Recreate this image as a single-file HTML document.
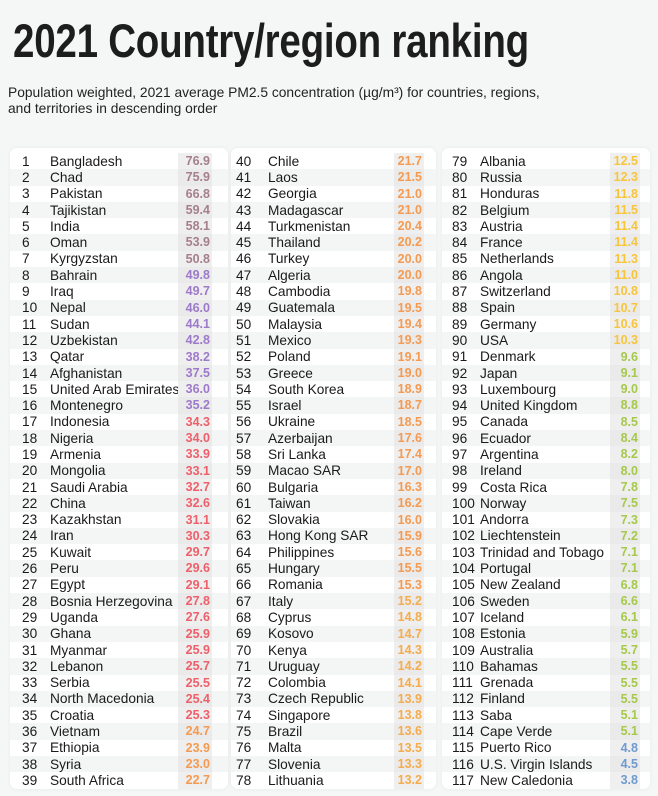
<!DOCTYPE html>
<html><head><meta charset="utf-8"><style>
*{margin:0;padding:0;box-sizing:border-box}
body{width:658px;height:796px;background:#f5f7f7;font-family:"Liberation Sans",sans-serif;position:relative;overflow:hidden;color:#1a1a1a}
h1{position:absolute;left:13px;top:13px;font-family:"Liberation Sans Narrow","Liberation Sans",sans-serif;font-weight:bold;font-size:47px;letter-spacing:-0.3px;color:#1d1d1d;white-space:nowrap;transform:scaleX(0.82);transform-origin:0 0}
.sub{position:absolute;left:8px;top:85px;font-size:13.8px;line-height:16px;color:#222}
.p{position:absolute;top:148px;height:641px;background:#fff;border-radius:7px;box-shadow:0 0 4px rgba(0,0,0,.06);padding-top:5px}
.r{height:16.3px;display:flex;align-items:center;font-size:13.7px;position:relative}
.r:nth-child(even){background:#f4f5f5}
.k{position:absolute;white-space:nowrap}
.n{position:absolute;white-space:nowrap}
.v{position:absolute;top:0;height:100%;text-align:right;font-weight:bold;font-size:12.5px;line-height:16.3px;background:#efefef;padding-right:2px}
.r:nth-child(even) .v{background:#eaeaea}
#a{left:10px;width:218px}#a .k{left:12px}#a .n{left:40px}#a .v{left:168px;width:34px}
#b{left:231px;width:205px}#b .k{left:5px}#b .n{left:37px}#b .v{left:163px;width:30px}
#c{left:442px;width:208px}#c .k{left:10px}#c .n{left:38px}#c .v{left:168px;width:30px}
.m{color:#a57f8c}.u{color:#9d7acb}.e{color:#ee5f6a}.o{color:#f59a50}.q{color:#f6ab4c}.y{color:#f7c53c}.g{color:#a5c94a}.b{color:#6f9bd0}
</style></head><body>
<h1>2021 Country/region ranking</h1>
<div class="sub">Population weighted, 2021 average PM2.5 concentration (µg/m³) for countries, regions,<br>and territories in descending order</div>
<div class="p" id="a">
<div class="r"><span class="k">1</span><span class="n">Bangladesh</span><span class="v m">76.9</span></div>
<div class="r"><span class="k">2</span><span class="n">Chad</span><span class="v m">75.9</span></div>
<div class="r"><span class="k">3</span><span class="n">Pakistan</span><span class="v m">66.8</span></div>
<div class="r"><span class="k">4</span><span class="n">Tajikistan</span><span class="v m">59.4</span></div>
<div class="r"><span class="k">5</span><span class="n">India</span><span class="v m">58.1</span></div>
<div class="r"><span class="k">6</span><span class="n">Oman</span><span class="v m">53.9</span></div>
<div class="r"><span class="k">7</span><span class="n">Kyrgyzstan</span><span class="v m">50.8</span></div>
<div class="r"><span class="k">8</span><span class="n">Bahrain</span><span class="v u">49.8</span></div>
<div class="r"><span class="k">9</span><span class="n">Iraq</span><span class="v u">49.7</span></div>
<div class="r"><span class="k">10</span><span class="n">Nepal</span><span class="v u">46.0</span></div>
<div class="r"><span class="k">11</span><span class="n">Sudan</span><span class="v u">44.1</span></div>
<div class="r"><span class="k">12</span><span class="n">Uzbekistan</span><span class="v u">42.8</span></div>
<div class="r"><span class="k">13</span><span class="n">Qatar</span><span class="v u">38.2</span></div>
<div class="r"><span class="k">14</span><span class="n">Afghanistan</span><span class="v u">37.5</span></div>
<div class="r"><span class="k">15</span><span class="n">United Arab Emirates</span><span class="v u">36.0</span></div>
<div class="r"><span class="k">16</span><span class="n">Montenegro</span><span class="v u">35.2</span></div>
<div class="r"><span class="k">17</span><span class="n">Indonesia</span><span class="v e">34.3</span></div>
<div class="r"><span class="k">18</span><span class="n">Nigeria</span><span class="v e">34.0</span></div>
<div class="r"><span class="k">19</span><span class="n">Armenia</span><span class="v e">33.9</span></div>
<div class="r"><span class="k">20</span><span class="n">Mongolia</span><span class="v e">33.1</span></div>
<div class="r"><span class="k">21</span><span class="n">Saudi Arabia</span><span class="v e">32.7</span></div>
<div class="r"><span class="k">22</span><span class="n">China</span><span class="v e">32.6</span></div>
<div class="r"><span class="k">23</span><span class="n">Kazakhstan</span><span class="v e">31.1</span></div>
<div class="r"><span class="k">24</span><span class="n">Iran</span><span class="v e">30.3</span></div>
<div class="r"><span class="k">25</span><span class="n">Kuwait</span><span class="v e">29.7</span></div>
<div class="r"><span class="k">26</span><span class="n">Peru</span><span class="v e">29.6</span></div>
<div class="r"><span class="k">27</span><span class="n">Egypt</span><span class="v e">29.1</span></div>
<div class="r"><span class="k">28</span><span class="n">Bosnia Herzegovina</span><span class="v e">27.8</span></div>
<div class="r"><span class="k">29</span><span class="n">Uganda</span><span class="v e">27.6</span></div>
<div class="r"><span class="k">30</span><span class="n">Ghana</span><span class="v e">25.9</span></div>
<div class="r"><span class="k">31</span><span class="n">Myanmar</span><span class="v e">25.9</span></div>
<div class="r"><span class="k">32</span><span class="n">Lebanon</span><span class="v e">25.7</span></div>
<div class="r"><span class="k">33</span><span class="n">Serbia</span><span class="v e">25.5</span></div>
<div class="r"><span class="k">34</span><span class="n">North Macedonia</span><span class="v e">25.4</span></div>
<div class="r"><span class="k">35</span><span class="n">Croatia</span><span class="v e">25.3</span></div>
<div class="r"><span class="k">36</span><span class="n">Vietnam</span><span class="v o">24.7</span></div>
<div class="r"><span class="k">37</span><span class="n">Ethiopia</span><span class="v o">23.9</span></div>
<div class="r"><span class="k">38</span><span class="n">Syria</span><span class="v o">23.0</span></div>
<div class="r"><span class="k">39</span><span class="n">South Africa</span><span class="v o">22.7</span></div>
</div>
<div class="p" id="b">
<div class="r"><span class="k">40</span><span class="n">Chile</span><span class="v o">21.7</span></div>
<div class="r"><span class="k">41</span><span class="n">Laos</span><span class="v o">21.5</span></div>
<div class="r"><span class="k">42</span><span class="n">Georgia</span><span class="v o">21.0</span></div>
<div class="r"><span class="k">43</span><span class="n">Madagascar</span><span class="v o">21.0</span></div>
<div class="r"><span class="k">44</span><span class="n">Turkmenistan</span><span class="v o">20.4</span></div>
<div class="r"><span class="k">45</span><span class="n">Thailand</span><span class="v o">20.2</span></div>
<div class="r"><span class="k">46</span><span class="n">Turkey</span><span class="v o">20.0</span></div>
<div class="r"><span class="k">47</span><span class="n">Algeria</span><span class="v o">20.0</span></div>
<div class="r"><span class="k">48</span><span class="n">Cambodia</span><span class="v o">19.8</span></div>
<div class="r"><span class="k">49</span><span class="n">Guatemala</span><span class="v o">19.5</span></div>
<div class="r"><span class="k">50</span><span class="n">Malaysia</span><span class="v o">19.4</span></div>
<div class="r"><span class="k">51</span><span class="n">Mexico</span><span class="v o">19.3</span></div>
<div class="r"><span class="k">52</span><span class="n">Poland</span><span class="v o">19.1</span></div>
<div class="r"><span class="k">53</span><span class="n">Greece</span><span class="v o">19.0</span></div>
<div class="r"><span class="k">54</span><span class="n">South Korea</span><span class="v o">18.9</span></div>
<div class="r"><span class="k">55</span><span class="n">Israel</span><span class="v o">18.7</span></div>
<div class="r"><span class="k">56</span><span class="n">Ukraine</span><span class="v o">18.5</span></div>
<div class="r"><span class="k">57</span><span class="n">Azerbaijan</span><span class="v o">17.6</span></div>
<div class="r"><span class="k">58</span><span class="n">Sri Lanka</span><span class="v o">17.4</span></div>
<div class="r"><span class="k">59</span><span class="n">Macao SAR</span><span class="v o">17.0</span></div>
<div class="r"><span class="k">60</span><span class="n">Bulgaria</span><span class="v o">16.3</span></div>
<div class="r"><span class="k">61</span><span class="n">Taiwan</span><span class="v o">16.2</span></div>
<div class="r"><span class="k">62</span><span class="n">Slovakia</span><span class="v o">16.0</span></div>
<div class="r"><span class="k">63</span><span class="n">Hong Kong SAR</span><span class="v o">15.9</span></div>
<div class="r"><span class="k">64</span><span class="n">Philippines</span><span class="v o">15.6</span></div>
<div class="r"><span class="k">65</span><span class="n">Hungary</span><span class="v o">15.5</span></div>
<div class="r"><span class="k">66</span><span class="n">Romania</span><span class="v o">15.3</span></div>
<div class="r"><span class="k">67</span><span class="n">Italy</span><span class="v q">15.2</span></div>
<div class="r"><span class="k">68</span><span class="n">Cyprus</span><span class="v q">14.8</span></div>
<div class="r"><span class="k">69</span><span class="n">Kosovo</span><span class="v q">14.7</span></div>
<div class="r"><span class="k">70</span><span class="n">Kenya</span><span class="v q">14.3</span></div>
<div class="r"><span class="k">71</span><span class="n">Uruguay</span><span class="v q">14.2</span></div>
<div class="r"><span class="k">72</span><span class="n">Colombia</span><span class="v q">14.1</span></div>
<div class="r"><span class="k">73</span><span class="n">Czech Republic</span><span class="v q">13.9</span></div>
<div class="r"><span class="k">74</span><span class="n">Singapore</span><span class="v q">13.8</span></div>
<div class="r"><span class="k">75</span><span class="n">Brazil</span><span class="v q">13.6</span></div>
<div class="r"><span class="k">76</span><span class="n">Malta</span><span class="v q">13.5</span></div>
<div class="r"><span class="k">77</span><span class="n">Slovenia</span><span class="v q">13.3</span></div>
<div class="r"><span class="k">78</span><span class="n">Lithuania</span><span class="v q">13.2</span></div>
</div>
<div class="p" id="c">
<div class="r"><span class="k">79</span><span class="n">Albania</span><span class="v y">12.5</span></div>
<div class="r"><span class="k">80</span><span class="n">Russia</span><span class="v y">12.3</span></div>
<div class="r"><span class="k">81</span><span class="n">Honduras</span><span class="v y">11.8</span></div>
<div class="r"><span class="k">82</span><span class="n">Belgium</span><span class="v y">11.5</span></div>
<div class="r"><span class="k">83</span><span class="n">Austria</span><span class="v y">11.4</span></div>
<div class="r"><span class="k">84</span><span class="n">France</span><span class="v y">11.4</span></div>
<div class="r"><span class="k">85</span><span class="n">Netherlands</span><span class="v y">11.3</span></div>
<div class="r"><span class="k">86</span><span class="n">Angola</span><span class="v y">11.0</span></div>
<div class="r"><span class="k">87</span><span class="n">Switzerland</span><span class="v y">10.8</span></div>
<div class="r"><span class="k">88</span><span class="n">Spain</span><span class="v y">10.7</span></div>
<div class="r"><span class="k">89</span><span class="n">Germany</span><span class="v y">10.6</span></div>
<div class="r"><span class="k">90</span><span class="n">USA</span><span class="v y">10.3</span></div>
<div class="r"><span class="k">91</span><span class="n">Denmark</span><span class="v g">9.6</span></div>
<div class="r"><span class="k">92</span><span class="n">Japan</span><span class="v g">9.1</span></div>
<div class="r"><span class="k">93</span><span class="n">Luxembourg</span><span class="v g">9.0</span></div>
<div class="r"><span class="k">94</span><span class="n">United Kingdom</span><span class="v g">8.8</span></div>
<div class="r"><span class="k">95</span><span class="n">Canada</span><span class="v g">8.5</span></div>
<div class="r"><span class="k">96</span><span class="n">Ecuador</span><span class="v g">8.4</span></div>
<div class="r"><span class="k">97</span><span class="n">Argentina</span><span class="v g">8.2</span></div>
<div class="r"><span class="k">98</span><span class="n">Ireland</span><span class="v g">8.0</span></div>
<div class="r"><span class="k">99</span><span class="n">Costa Rica</span><span class="v g">7.8</span></div>
<div class="r"><span class="k">100</span><span class="n">Norway</span><span class="v g">7.5</span></div>
<div class="r"><span class="k">101</span><span class="n">Andorra</span><span class="v g">7.3</span></div>
<div class="r"><span class="k">102</span><span class="n">Liechtenstein</span><span class="v g">7.2</span></div>
<div class="r"><span class="k">103</span><span class="n">Trinidad and Tobago</span><span class="v g">7.1</span></div>
<div class="r"><span class="k">104</span><span class="n">Portugal</span><span class="v g">7.1</span></div>
<div class="r"><span class="k">105</span><span class="n">New Zealand</span><span class="v g">6.8</span></div>
<div class="r"><span class="k">106</span><span class="n">Sweden</span><span class="v g">6.6</span></div>
<div class="r"><span class="k">107</span><span class="n">Iceland</span><span class="v g">6.1</span></div>
<div class="r"><span class="k">108</span><span class="n">Estonia</span><span class="v g">5.9</span></div>
<div class="r"><span class="k">109</span><span class="n">Australia</span><span class="v g">5.7</span></div>
<div class="r"><span class="k">110</span><span class="n">Bahamas</span><span class="v g">5.5</span></div>
<div class="r"><span class="k">111</span><span class="n">Grenada</span><span class="v g">5.5</span></div>
<div class="r"><span class="k">112</span><span class="n">Finland</span><span class="v g">5.5</span></div>
<div class="r"><span class="k">113</span><span class="n">Saba</span><span class="v g">5.1</span></div>
<div class="r"><span class="k">114</span><span class="n">Cape Verde</span><span class="v g">5.1</span></div>
<div class="r"><span class="k">115</span><span class="n">Puerto Rico</span><span class="v b">4.8</span></div>
<div class="r"><span class="k">116</span><span class="n">U.S. Virgin Islands</span><span class="v b">4.5</span></div>
<div class="r"><span class="k">117</span><span class="n">New Caledonia</span><span class="v b">3.8</span></div>
</div>
</body></html>
